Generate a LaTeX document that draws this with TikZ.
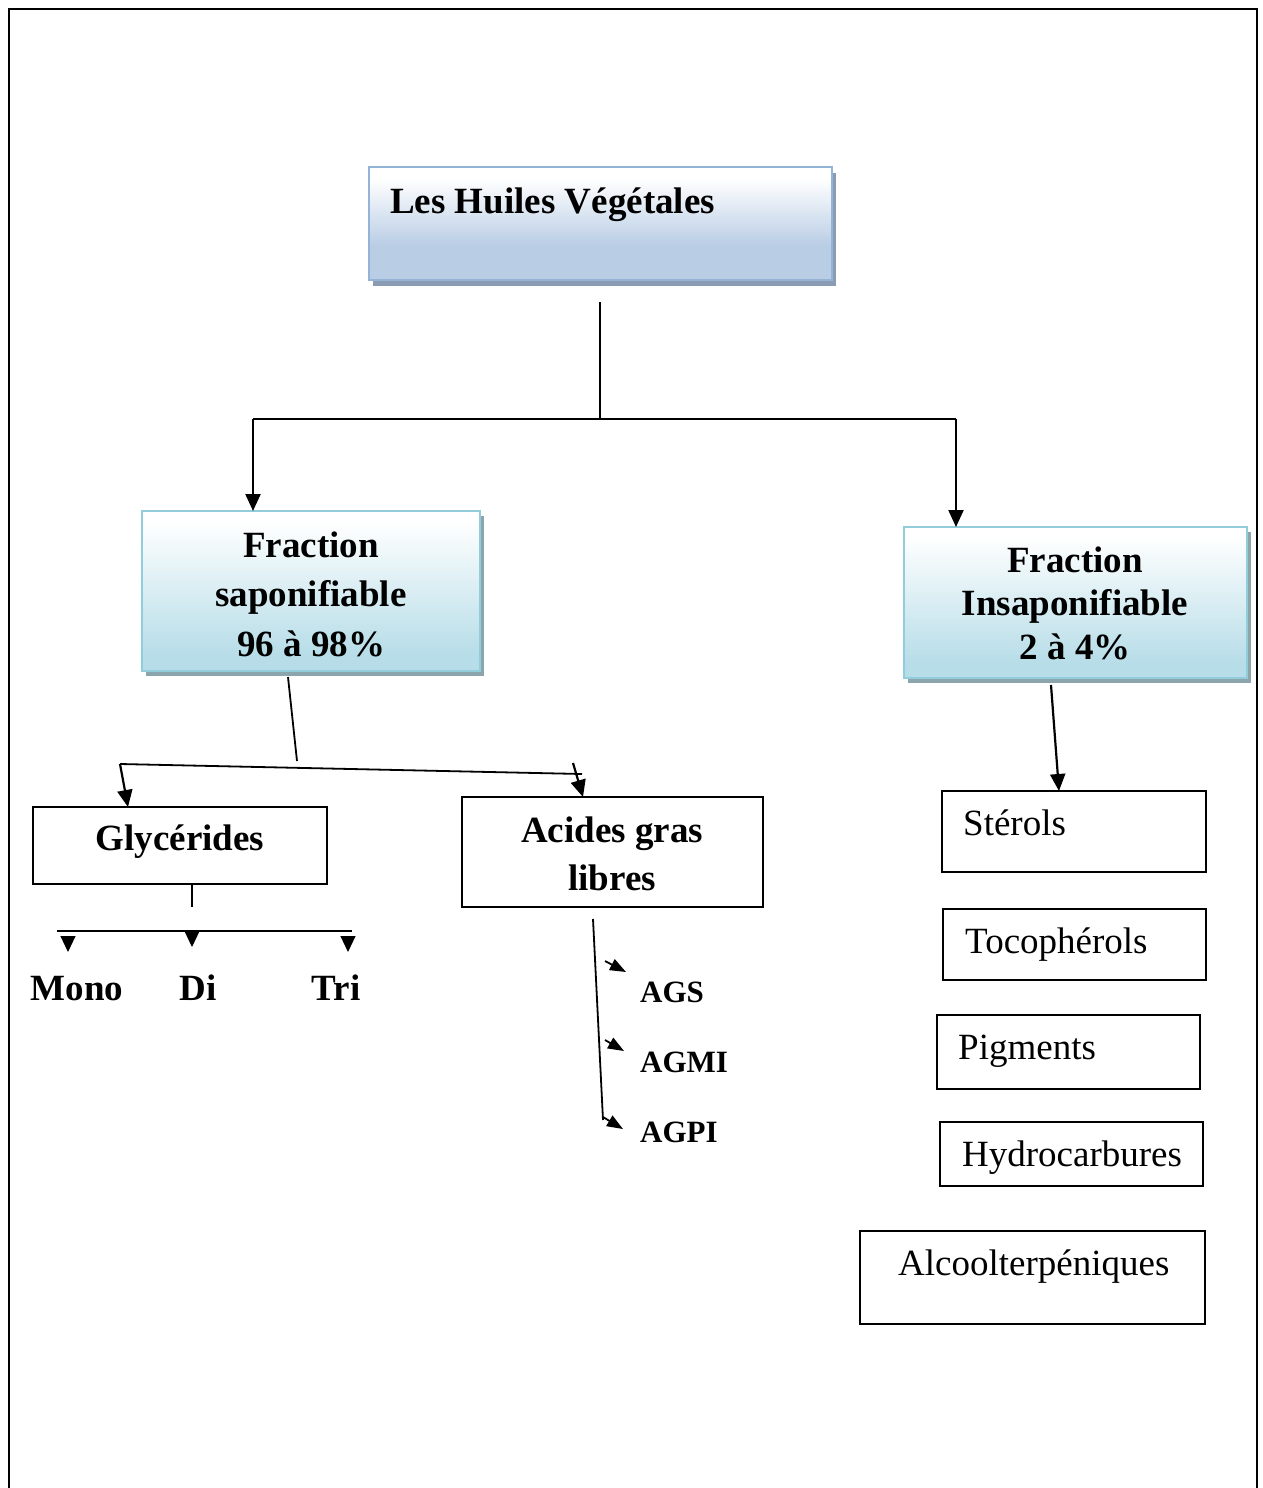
\documentclass[tikz,border=0pt]{standalone}
\usepackage{fontspec}
\setmainfont{Liberation Serif}
\usetikzlibrary{arrows.meta,shadows}
\definecolor{hvblue}{HTML}{B9CDE5}
\definecolor{hvborder}{HTML}{95B3D7}
\definecolor{hvshadow}{HTML}{8A9BB4}
\definecolor{frcyan}{HTML}{B7DDE8}
\definecolor{frborder}{HTML}{92CDDC}
\definecolor{frshadow}{HTML}{8CA5AC}
\pgfdeclareverticalshading{hvshade}{100bp}{color(0bp)=(hvblue);color(40bp)=(hvblue);color(70bp)=(white);color(100bp)=(white)}
\pgfdeclareverticalshading{frshade}{100bp}{color(0bp)=(frcyan);color(30bp)=(frcyan);color(72bp)=(white);color(100bp)=(white)}
\begin{document}
\begin{tikzpicture}[x=1pt,y=-1pt,
  boxbase/.style={anchor=north west,inner sep=0pt,outer sep=0pt},
  hvbox/.style={boxbase,draw=hvborder,line width=2pt,shading=hvshade,
    drop shadow={shadow xshift=4pt,shadow yshift=-6pt,fill=hvshadow,opacity=1}},
  frbox/.style={boxbase,draw=frborder,line width=2pt,shading=frshade,
    drop shadow={shadow xshift=4pt,shadow yshift=-5pt,fill=frshadow,opacity=1}},
  plainbox/.style={boxbase,draw=black,line width=1.8pt},
  btxt/.style={inner sep=0pt,anchor=base,font=\fontsize{37}{44}\selectfont\bfseries},
  rtxt/.style={inner sep=0pt,anchor=base west,font=\fontsize{37}{44}\selectfont},
  agtxt/.style={inner sep=0pt,anchor=base west,font=\fontsize{31}{37}\selectfont\bfseries},
  conn/.style={line width=1.8pt},
  arr/.style={line width=2.2pt,-{Triangle[width=15pt,length=17pt]}},
  smallarr/.style={line width=1.8pt,-{Triangle[width=12pt,length=16pt]}},
  tri/.style={line width=1pt,-{Triangle[width=15pt,length=16pt]}}
]
\useasboundingbox (0,0) rectangle (1262,1488);
\fill[white] (0,0) rectangle (1262,1488);
% outer frame
\draw[line width=1.8pt] (9,1490) -- (9,9) -- (1257,9) -- (1257,1490);

% boxes
\node[hvbox,minimum width=463pt,minimum height=113pt] (hv) at (369,167) {};
\node[frbox,minimum width=338pt,minimum height=160pt] (sap) at (142,511) {};
\node[frbox,minimum width=343pt,minimum height=151pt] (insap) at (904,527) {};
\node[plainbox,minimum width=294pt,minimum height=77pt] (gly) at (33,807) {};
\node[plainbox,minimum width=301pt,minimum height=110pt] (agl) at (462,797) {};
\node[plainbox,minimum width=264pt,minimum height=81pt] (ster) at (942,791) {};
\node[plainbox,minimum width=263pt,minimum height=71pt] (toco) at (943,909) {};
\node[plainbox,minimum width=263pt,minimum height=74pt] (pigm) at (937,1015) {};
\node[plainbox,minimum width=263pt,minimum height=64pt] (hydro) at (940,1122) {};
\node[plainbox,minimum width=345pt,minimum height=93pt] (alco) at (860,1231) {};

% texts
\node[btxt,anchor=base west] (hvt) at (390,213) {Les Huiles Végétales};
\node[btxt] (sap1) at (311,557) {Fraction};
\node[btxt] (sap2) at (311,606) {saponifiable};
\node[btxt] (sap3) at (311,656) {96 à 98\%};
\node[btxt] (ins1) at (1075,572) {Fraction};
\node[btxt] (ins2) at (1075,615) {Insaponifiable};
\node[btxt] (ins3) at (1075,659) {2 à 4\%};
\node[btxt] (glyt) at (180,850) {Glycérides};
\node[btxt] (agl1) at (612,842) {Acides gras};
\node[btxt] (agl2) at (612,890) {libres};
\node[btxt] (mono) at (77,1000) {Mono};
\node[btxt] (di) at (198,1000) {Di};
\node[btxt] (trit) at (336,1000) {Tri};
\node[agtxt] (ags) at (640,1002) {AGS};
\node[agtxt] (agmi) at (640,1072) {AGMI};
\node[agtxt] (agpi) at (640,1142) {AGPI};
\node[rtxt] (stert) at (963,835) {Stérols};
\node[rtxt] (tocot) at (965,953) {Tocophérols};
\node[rtxt] (pigmt) at (958,1059) {Pigments};
\node[rtxt] (hydrot) at (962,1166) {Hydrocarbures};
\node[rtxt] (alcot) at (898,1275) {Alcoolterpéniques};

% connectors: top
\coordinate (t1) at (600,302);
\coordinate (t2) at (600,419);
\coordinate (tl) at (253,419);
\coordinate (tr) at (956,419);
\draw[conn] (t1) -- (t2);
\draw[conn] (tl) -- (tr);
\draw[arr] (tl) -- (tl |- sap.north);
\draw[arr] (tr) -- (tr |- insap.north);

% saponifiable branch
\coordinate (s1) at (288,677);
\coordinate (s2) at (297,761);
\coordinate (g1) at (120,764);
\coordinate (a1) at (582,774);
\coordinate (gx) at (128,0);
\coordinate (a0) at (573,763);
\coordinate (ax) at (583,0);
\draw[conn] (s1) -- (s2);
\draw[conn] (g1) -- (a1);
\draw[arr] (g1) -- (gx |- gly.north);
\draw[arr] (a0) -- (ax |- agl.north);

% glycerides branch
\coordinate (gb) at (192,907);
\coordinate (hl) at (57,931);
\coordinate (hr) at (352,931);
\draw[conn] (gly.south -| gb) -- (gb);
\draw[conn] (hl) -- (hr);
\coordinate (m0) at (68,936);
\coordinate (m1) at (68,952);
\coordinate (d0) at (192,931);
\coordinate (d1) at (192,947);
\coordinate (r0) at (348,936);
\coordinate (r1) at (348,952);
\draw[tri] (m0) -- (m1);
\draw[tri] (d0) -- (d1);
\draw[tri] (r0) -- (r1);

% acides gras branch
\coordinate (v0) at (593,919);
\coordinate (v1) at (603,1120);
\draw[conn] (v0) -- (v1);
\coordinate (p1a) at (605,961);
\coordinate (p1b) at (626,972);
\coordinate (p2a) at (605,1040);
\coordinate (p2b) at (624,1051);
\coordinate (p3a) at (603,1117);
\coordinate (p3b) at (623,1129);
\draw[smallarr] (p1a) -- (p1b);
\draw[smallarr] (p2a) -- (p2b);
\draw[smallarr] (p3a) -- (p3b);

% insaponifiable branch
\coordinate (i0) at (1051,685);
\coordinate (ix) at (1059,0);
\draw[arr] (i0) -- (ix |- ster.north);
\end{tikzpicture}
\end{document}
